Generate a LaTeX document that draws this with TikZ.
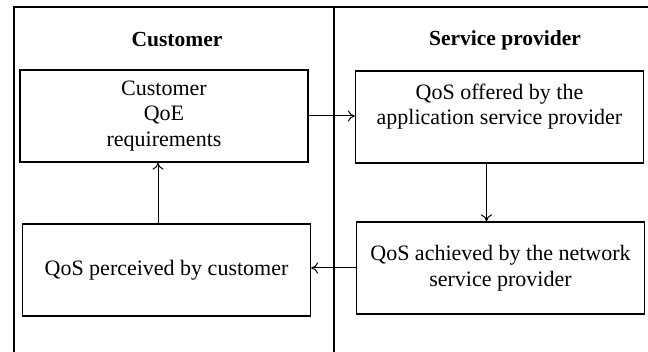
\documentclass[tikz,border=0pt]{standalone}
\usepackage{fontspec}
\setmainfont{Liberation Serif}
\usetikzlibrary{arrows.meta}
\tikzset{
  box/.style={draw, line width=1.3pt, minimum width=288pt, minimum height=92pt,
    inner sep=0pt, align=center, font=\fontsize{22}{25.5}\selectfont},
  title/.style={font=\fontsize{21.5}{25}\selectfont\bfseries},
  frame/.style={line width=1.2pt},
  flow/.style={line width=1pt, -{To[length=7pt,width=11pt]}},
}
\begin{document}
\begin{tikzpicture}[x=1pt,y=-1pt]
  \useasboundingbox (0,0) rectangle (648,352);
  % swimlane frame: top rule, left border and lane divider
  \coordinate (tl) at (14,7);
  \coordinate (tr) at (648,7);
  \coordinate (bl) at (14,352);
  \coordinate (dtop) at (334,7);
  \coordinate (dbot) at (334,352);
  \draw[frame] (bl) -- (tl) -- (tr);
  \draw[frame] (dtop) -- (dbot);

  % lane titles
  \node[title] (tcust) at (177,40) {Customer};
  \node[title] (tprov) at (505,40) {Service provider};

  % process boxes
  \node[box] (cust) at (164,116) {Customer\\QoE\\requirements};
  \node[box] (offer) at (499.5,117) {QoS offered by the\\application service provider\\\mbox{}};
  \node[box] (achieved) at (500.5,268) {QoS achieved by the network\\service provider};
  \node[box] (perceived) at (166.5,270) {QoS perceived by customer};

  % flows
  \draw[flow] (cust.east) -- (cust.east -| offer.west);
  \draw[flow] ([xshift=-13pt]offer.south) -- ([xshift=-13pt]offer.south |- achieved.north);
  \draw[flow] (achieved.west) -- (achieved.west -| perceived.east);
  \draw[flow] ([xshift=-8.5pt]perceived.north) -- ([xshift=-8.5pt]perceived.north |- cust.south);
\end{tikzpicture}
\end{document}
